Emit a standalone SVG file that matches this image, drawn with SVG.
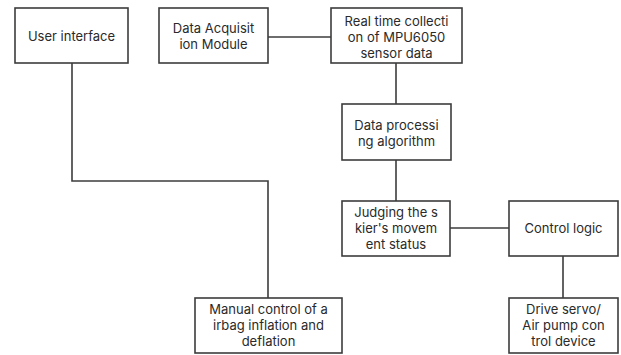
<svg xmlns="http://www.w3.org/2000/svg" width="621" height="355" viewBox="0 0 621 355">
  <style>
    .box { fill: #ffffff; stroke: #3c3c3c; stroke-width: 1.6; }
    .wire { fill: none; stroke: #3c3c3c; stroke-width: 1.6; }
    text { font-family: Inter, "Open Sans", "DejaVu Sans", sans-serif; font-size: 13px; fill: #2a2a2a; text-anchor: middle; }
  </style>
  <rect width="621" height="355" fill="#ffffff"/>
  <g id="connectors">
    <path class="wire" d="M268 37 H331"/>
    <path class="wire" d="M396 63 V104"/>
    <path class="wire" d="M396 160 V201"/>
    <path class="wire" d="M450 228 H509"/>
    <path class="wire" d="M563 256 V298"/>
    <path class="wire" d="M72 63 V181 H268 V298"/>
  </g>
  <g id="user-interface">
    <rect class="box" x="15" y="8" width="113" height="55"/>
    <text x="71.5" y="41">User interface</text>
  </g>
  <g id="data-acquisition">
    <rect class="box" x="159" y="8" width="109" height="55"/>
    <text x="213.5" y="33">Data Acquisit</text>
    <text x="213.5" y="49">ion Module</text>
  </g>
  <g id="realtime-collection">
    <rect class="box" x="331" y="8" width="131" height="55"/>
    <text x="396.5" y="26">Real time collecti</text>
    <text x="396.5" y="42">on of MPU6050</text>
    <text x="396.5" y="58">sensor data</text>
  </g>
  <g id="data-processing">
    <rect class="box" x="342" y="104" width="109" height="56"/>
    <text x="396.5" y="130">Data processi</text>
    <text x="396.5" y="146">ng algorithm</text>
  </g>
  <g id="movement-status">
    <rect class="box" x="342" y="201" width="108" height="55"/>
    <text x="396" y="217">Judging the s</text>
    <text x="396" y="233">kier's movem</text>
    <text x="396" y="249">ent status</text>
  </g>
  <g id="control-logic">
    <rect class="box" x="509" y="201" width="109" height="55"/>
    <text x="563.5" y="233">Control logic</text>
  </g>
  <g id="drive-servo">
    <rect class="box" x="509" y="298" width="109" height="55"/>
    <text x="563.5" y="314">Drive servo/</text>
    <text x="563.5" y="330">Air pump con</text>
    <text x="563.5" y="346">trol device</text>
  </g>
  <g id="manual-control">
    <rect class="box" x="195" y="298" width="147" height="55"/>
    <text x="268.5" y="314">Manual control of a</text>
    <text x="268.5" y="330">irbag inflation and</text>
    <text x="268.5" y="346">deflation</text>
  </g>
</svg>
